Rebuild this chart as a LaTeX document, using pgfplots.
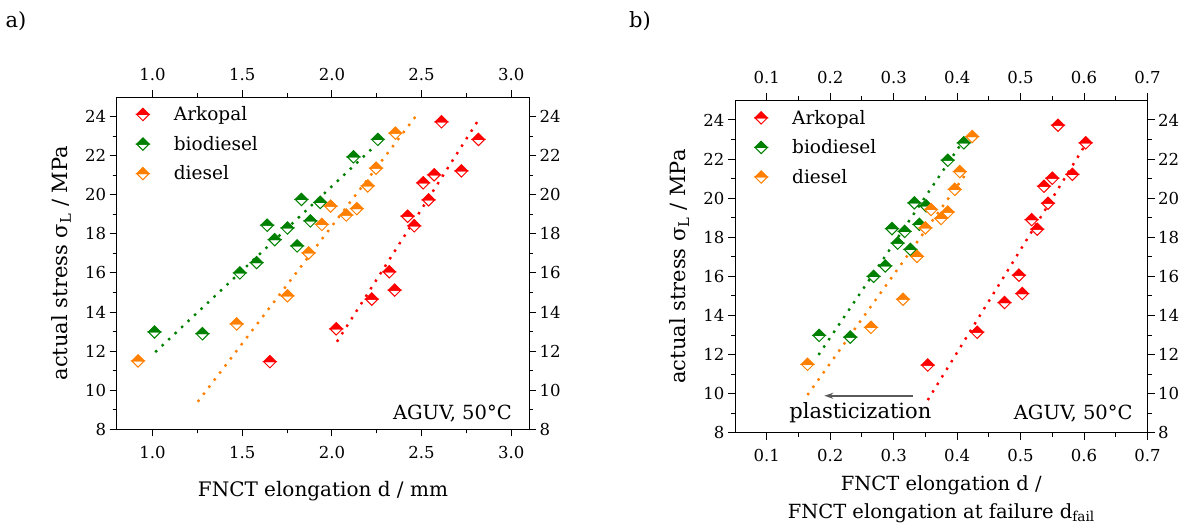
\documentclass[border=0pt]{standalone}
\usepackage{fontspec}
\setmainfont{DejaVu Serif}
\usepackage{pgfplots}
\pgfplotsset{compat=1.18}
\usetikzlibrary{arrows.meta}
\definecolor{cred}{RGB}{255,0,0}
\definecolor{cgreen}{RGB}{0,128,0}
\definecolor{corange}{RGB}{255,128,0}

\pgfdeclareplotmark{halfdiamond}{%
  \begin{pgfscope}%
  \pgfsetfillcolor{white}%
  \pgfpathmoveto{\pgfqpoint{-\pgfplotmarksize}{0pt}}%
  \pgfpathlineto{\pgfqpoint{0pt}{-\pgfplotmarksize}}%
  \pgfpathlineto{\pgfqpoint{\pgfplotmarksize}{0pt}}%
  \pgfpathclose
  \pgfusepathqfillstroke
  \end{pgfscope}%
  \pgfpathmoveto{\pgfqpoint{-\pgfplotmarksize}{0pt}}%
  \pgfpathlineto{\pgfqpoint{0pt}{\pgfplotmarksize}}%
  \pgfpathlineto{\pgfqpoint{\pgfplotmarksize}{0pt}}%
  \pgfpathclose
  \pgfusepathqfillstroke
}

\pgfplotstableread{
d r s
1.654 0.3537 11.46
2.024 0.4316 13.14
2.222 0.4747 14.66
2.320 0.4974 16.06
2.350 0.5026 15.12
2.422 0.5174 18.90
2.459 0.5263 18.41
2.509 0.5368 20.61
2.539 0.5432 19.74
2.570 0.5500 21.02
2.611 0.5589 23.73
2.722 0.5816 21.22
2.817 0.6026 22.83
}\arkopal

\pgfplotstableread{
d r s
1.011 0.1826 12.98
1.278 0.2316 12.89
1.487 0.2684 16.00
1.580 0.2868 16.53
1.639 0.2974 18.44
1.681 0.3063 17.70
1.752 0.3174 18.30
1.806 0.3263 17.38
1.830 0.3326 19.76
1.880 0.3405 18.66
1.935 0.3511 19.61
2.120 0.3853 21.94
2.256 0.4105 22.83
}\biodiesel

\pgfplotstableread{
d r s
0.919 0.1642 11.50
1.469 0.2642 13.39
1.752 0.3147 14.83
1.870 0.3368 17.02
1.944 0.3500 18.48
1.993 0.3589 19.42
2.080 0.3747 18.96
2.139 0.3853 19.29
2.200 0.3963 20.45
2.246 0.4042 21.36
2.354 0.4237 23.15
}\diesel

\pgfplotsset{
  base/.style={
    scale only axis, width=412.5pt, height=332.3pt,
    ymin=8, ymax=25, ytick={8,10,...,24}, minor y tick num=1,
    tick align=outside, tick pos=both,
    major tick length=7pt, minor tick length=4pt,
    every tick/.style={black, line width=0.9pt},
    axis line style={line width=1pt},
    every tick label/.append style={font=\fontsize{16.5}{20}\selectfont},
    /pgf/number format/assume math mode=true,
    xticklabel style={/pgf/number format/fixed, /pgf/number format/fixed zerofill,
      /pgf/number format/precision=1},
  },
  lower/.style={base, xticklabel pos=left, yticklabel pos=left, tick pos=both,
    xticklabel style={yshift=-6pt}},
  upper/.style={base, xticklabel pos=right, yticklabel pos=right, tick pos=both,
    xticklabel style={yshift=6pt}},
  mk/.style={only marks, mark=halfdiamond, mark size=6.2pt,
    mark options={draw=#1, fill=#1, line width=1pt}},
  fit/.style={forget plot, no marks, draw=#1, line width=2.4pt,
    dash pattern=on 2.4pt off 6.5pt, line cap=butt},
  leg/.style={legend style={draw=none, fill=none, at={(0,1)}, anchor=north west,
    xshift=8pt, yshift=-5.5pt, font=\fontsize{18.5}{22}\selectfont, row sep=10pt},
    legend cell align=left,
    legend image code/.code={\path[draw=none] (0pt,0pt) -- (44pt,0pt);
      \draw[##1] plot coordinates {(15pt,0pt)};}},
}

\begin{document}
\begin{tikzpicture}
\useasboundingbox (0pt,0pt) rectangle (1190pt,531pt);
\node[font=\fontsize{21}{24}\selectfont] at (16pt,510pt) {a)};
\node[font=\fontsize{21}{24}\selectfont] at (640pt,510pt) {b)};

% ---------- a) ----------
\begin{axis}[lower, leg, at={(116.7pt,101.7pt)}, anchor=south west,
  xmin=0.8, xmax=3.1, xtick={1,1.5,2,2.5,3}, minor x tick num=1,
  xlabel={FNCT elongation d / mm},
  xlabel style={at={(axis description cs:0.5,-0.155)}, anchor=north, inner sep=0pt,
    font=\fontsize{20}{23}\selectfont},
  ylabel={actual stress σ\textsubscript{L} / MPa},
  ylabel style={at={(axis description cs:-0.135,0.5)}, anchor=center, inner sep=0pt,
    font=\fontsize{21}{24}\selectfont}]
\addplot[mk=cred] table[x=d, y=s] {\arkopal};
\addlegendentry{Arkopal}
\addplot[mk=cgreen] table[x=d, y=s] {\biodiesel};
\addlegendentry{biodiesel}
\addplot[mk=corange] table[x=d, y=s] {\diesel};
\addlegendentry{diesel}
\addplot[fit=cgreen] coordinates {(1.015,11.95) (2.24,22.5)};
\addplot[fit=corange] coordinates {(1.252,9.41) (2.478,24.14)};
\addplot[fit=cred] coordinates {(2.028,12.48) (2.811,23.74)};
\node[anchor=base east, font=\fontsize{19.5}{24}\selectfont] at (axis cs:3.022,8.48) {AGUV, 50°C};
\end{axis}
\begin{axis}[upper, at={(116.7pt,101.7pt)}, anchor=south west,
  xmin=0.8, xmax=3.1, xtick={1,1.5,2,2.5,3}, minor x tick num=1]
\end{axis}

% ---------- b) ----------
\begin{axis}[lower, leg, at={(735pt,98.3pt)}, anchor=south west,
  xmin=0.05, xmax=0.7, xtick={0.1,0.2,0.3,0.4,0.5,0.6,0.7}, minor x tick num=1,
  xlabel={FNCT elongation d /\\FNCT elongation at failure d\textsubscript{fail}},
  xlabel style={at={(axis description cs:0.5,-0.128)}, anchor=north, inner sep=0pt,
    align=center, font=\fontsize{19.5}{28}\selectfont},
  ylabel={actual stress σ\textsubscript{L} / MPa},
  ylabel style={at={(axis description cs:-0.135,0.5)}, anchor=center, inner sep=0pt,
    font=\fontsize{21}{24}\selectfont}]
\addplot[mk=cred] table[x=r, y=s] {\arkopal};
\addlegendentry{Arkopal}
\addplot[mk=cgreen] table[x=r, y=s] {\biodiesel};
\addlegendentry{biodiesel}
\addplot[mk=corange] table[x=r, y=s] {\diesel};
\addlegendentry{diesel}
\addplot[fit=cgreen] coordinates {(0.1816,11.98) (0.4053,22.73)};
\addplot[fit=corange] coordinates {(0.1642,9.93) (0.4174,21.4)};
\addplot[fit=cred] coordinates {(0.3537,9.67) (0.6068,22.98)};
\draw[-{Stealth[length=9pt,width=6pt]}, line width=1.6pt, black!65]
  (axis cs:0.330,9.89) -- (axis cs:0.1907,9.89);
\node[anchor=base, font=\fontsize{21}{24}\selectfont] at (axis cs:0.2475,8.75) {plasticization};
\node[anchor=base east, font=\fontsize{19.5}{24}\selectfont] at (axis cs:0.682,8.65) {AGUV, 50°C};
\end{axis}
\begin{axis}[upper, at={(735pt,98.3pt)}, anchor=south west,
  xmin=0.05, xmax=0.7, xtick={0.1,0.2,0.3,0.4,0.5,0.6,0.7}, minor x tick num=1]
\end{axis}
\end{tikzpicture}
\end{document}
